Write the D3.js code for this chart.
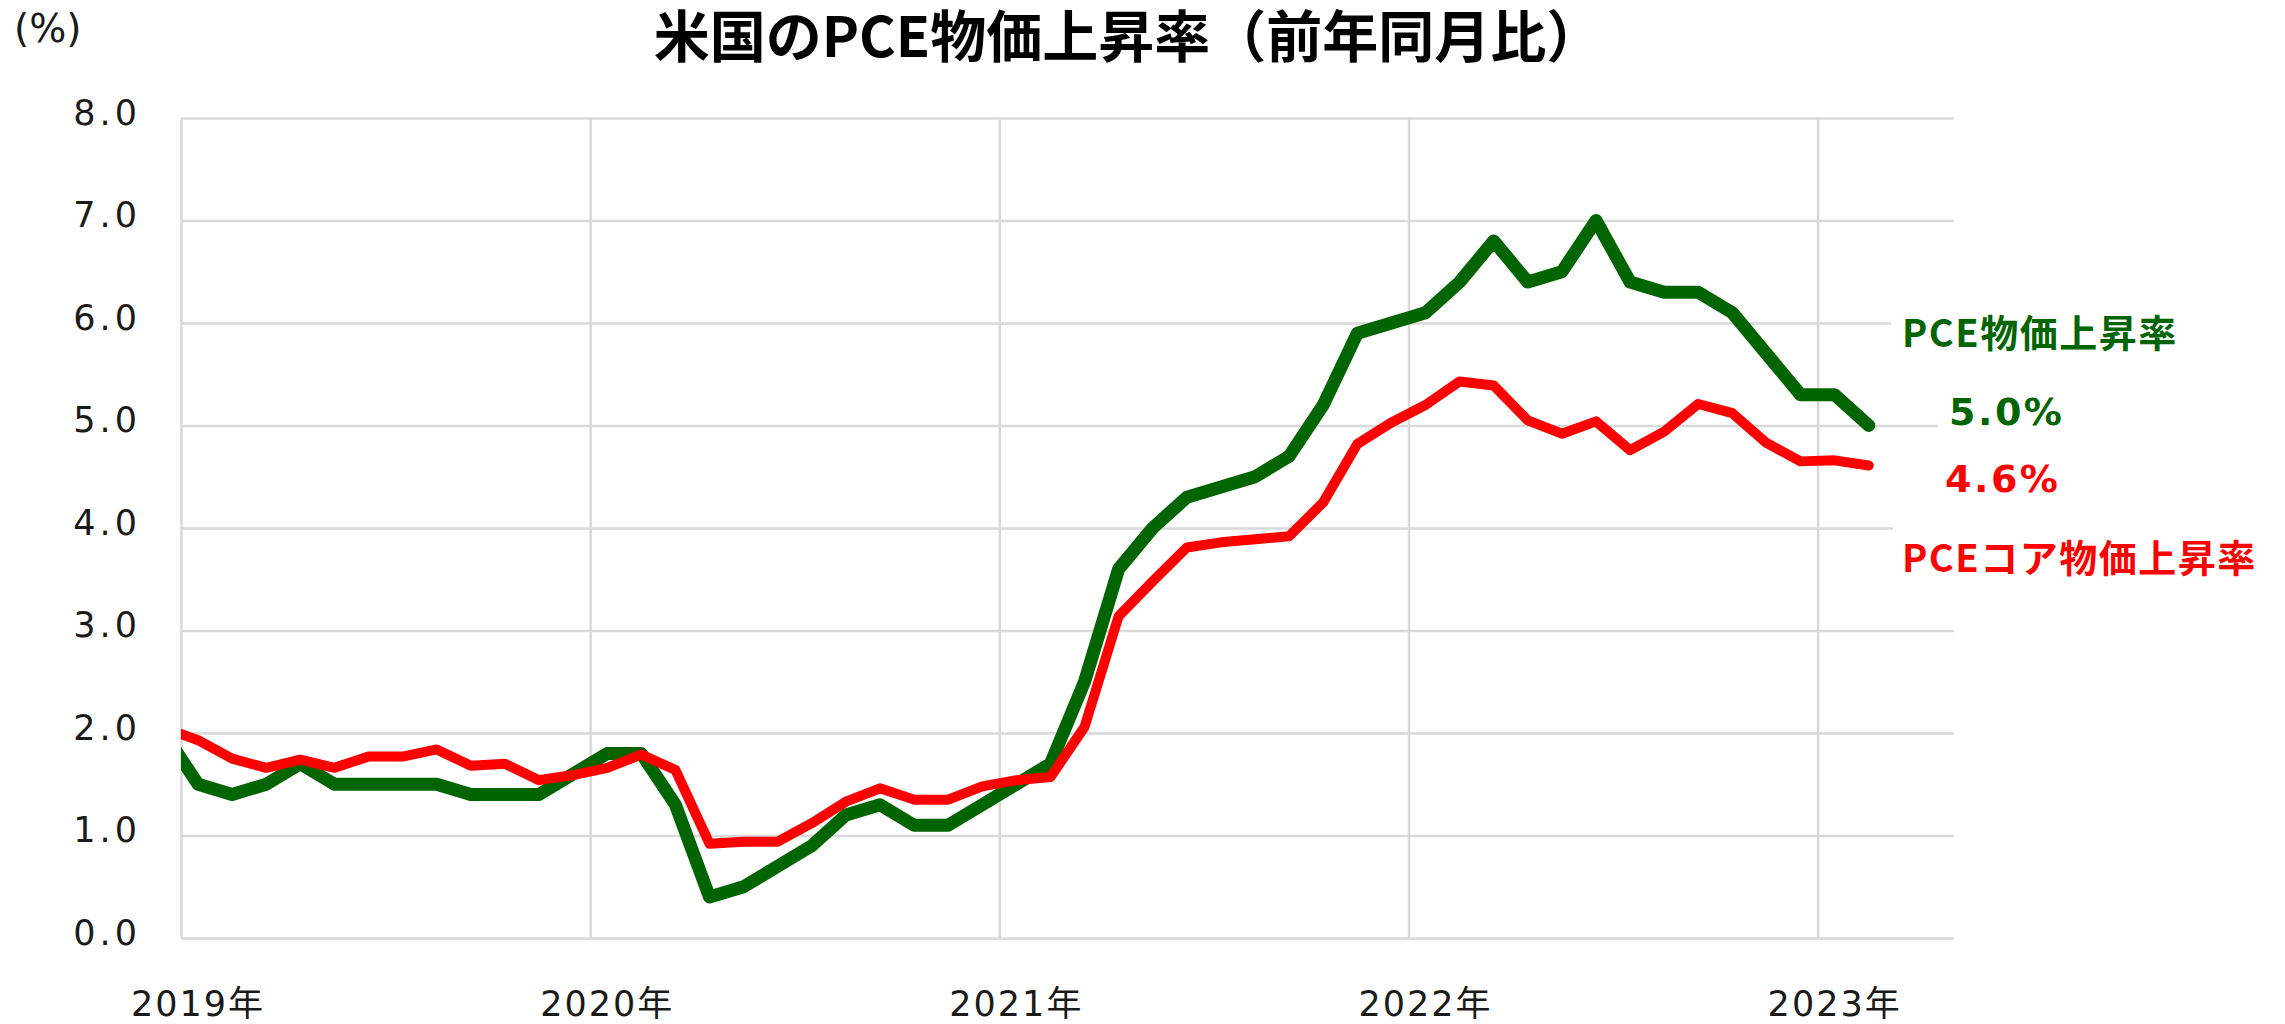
<!DOCTYPE html>
<html>
<head>
<meta charset="utf-8">
<script src="https://cdn.jsdelivr.net/npm/d3@7"></script>
<style>
  body { margin: 0; background: #fff; }
  #chart { width: 2285px; height: 1024px; }
</style>
</head>
<body>
<div id="chart"></div>
<script>
// monthly data, Dec 2018 .. Feb 2023 (first point sits left of the axis and gets clipped)
const months = d3.timeMonth.range(new Date(2018, 11, 1), new Date(2023, 2, 1));
const pce = [2.0,
  1.5, 1.4, 1.5, 1.7, 1.5, 1.5, 1.5, 1.5, 1.4, 1.4, 1.4, 1.6,
  1.8, 1.8, 1.3, 0.4, 0.5, 0.7, 0.9, 1.2, 1.3, 1.1, 1.1, 1.3,
  1.5, 1.7, 2.5, 3.6, 4.0, 4.3, 4.4, 4.5, 4.7, 5.2, 5.9, 6.0,
  6.1, 6.4, 6.8, 6.4, 6.5, 7.0, 6.4, 6.3, 6.3, 6.1, 5.7, 5.3,
  5.3, 5.0];
const pceCore = [2.05,
  1.93, 1.75, 1.66, 1.74, 1.66, 1.77, 1.77, 1.84, 1.68, 1.70, 1.54, 1.59,
  1.66, 1.79, 1.64, 0.92, 0.94, 0.94, 1.12, 1.33, 1.46, 1.35, 1.35, 1.48,
  1.54, 1.57, 2.06, 3.14, 3.48, 3.81, 3.86, 3.89, 3.92, 4.25, 4.82, 5.03,
  5.20, 5.43, 5.39, 5.05, 4.92, 5.04, 4.76, 4.94, 5.21, 5.12, 4.83, 4.65,
  4.66, 4.61];
const yearTicks = [0, 12, 24, 36, 48];
const yearLabels = ['2019年', '2020年', '2021年', '2022年', '2023年'];
const yTicks = [0, 1, 2, 3, 4, 5, 6, 7, 8];

const title = '米国のPCE物価上昇率（前年同月比）';
const unitLabel = '(%)';
const seriesNames = ['PCE物価上昇率', 'PCEコア物価上昇率'];
const lastLabels = ['5.0%', '4.6%'];

const GREEN = '#006400';
const RED = '#ff0000';
const GRID = '#d9d9d9';
const NUM_FONT = '"DejaVu Sans", "Noto Sans CJK JP", sans-serif';
const JP_FONT = '"Noto Sans CJK JP", sans-serif';

const margin = { top: 118, right: 331, bottom: 86, left: 181 };
const fullW = 2285, fullH = 1024;
const width = fullW - margin.left - margin.right;
const height = fullH - margin.top - margin.bottom;

const start = new Date(2019, 0, 1);
const idx = (d) => d3.timeMonth.count(start, d);

const x = d3.scaleLinear().domain([0, 52]).range([0, width]);
const y = d3.scaleLinear().domain([0, 8]).range([height, 0]);

const root = d3.select('#chart')
  .append('svg')
  .attr('width', fullW)
  .attr('height', fullH);

const svg = root.append('g')
  .attr('transform', `translate(${margin.left},${margin.top})`);

svg.append('defs')
  .append('clipPath')
  .attr('id', 'plot-clip')
  .append('rect')
  .attr('x', 0)
  .attr('y', -20)
  .attr('width', width)
  .attr('height', height + 40);

// horizontal gridlines + y labels
const yAxis = d3.axisLeft(y)
  .tickValues(yTicks)
  .tickSize(-width)
  .tickPadding(40)
  .tickFormat(d3.format('.1f'));

const yg = svg.append('g').call(yAxis);
yg.select('.domain').remove();
yg.selectAll('line').attr('stroke', GRID).attr('stroke-width', 2.5);
yg.selectAll('text')
  .attr('font-family', NUM_FONT)
  .attr('font-size', 35)
  .attr('letter-spacing', 4)
  .attr('fill', '#1a1a1a')
  .attr('dy', null)
  .attr('y', 6);

// vertical gridlines at each January
const xAxis = d3.axisBottom(x)
  .tickValues(yearTicks)
  .tickSize(-height)
  .tickFormat('');

const xg = svg.append('g')
  .attr('transform', `translate(0,${height})`)
  .call(xAxis);
xg.select('.domain').remove();
xg.selectAll('line').attr('stroke', GRID).attr('stroke-width', 2.5);

// year labels sit under the January point
svg.append('g')
  .selectAll('text')
  .data(yearTicks)
  .enter()
  .append('text')
  .attr('x', (d) => x(d + 0.5))
  .attr('y', 1016 - margin.top)
  .attr('text-anchor', 'middle')
  .attr('font-family', NUM_FONT)
  .attr('font-size', 35)
  .attr('letter-spacing', 2)
  .attr('fill', '#1a1a1a')
  .text((d, i) => yearLabels[i]);

// the two lines
const line = d3.line()
  .x((d) => x(idx(d.date) + 0.5))
  .y((d) => y(d.value));

const lines = [
  { values: pce, color: GREEN, width: 13 },
  { values: pceCore, color: RED, width: 10 },
];

lines.forEach((s) => {
  svg.append('path')
    .datum(months.map((m, i) => ({ date: m, value: s.values[i] })))
    .attr('clip-path', 'url(#plot-clip)')
    .attr('fill', 'none')
    .attr('stroke', s.color)
    .attr('stroke-width', s.width)
    .attr('stroke-linejoin', 'round')
    .attr('stroke-linecap', 'round')
    .attr('d', line);
});

// title and unit
root.append('text')
  .attr('x', 1128)
  .attr('y', 57)
  .attr('text-anchor', 'middle')
  .attr('font-family', JP_FONT)
  .attr('font-weight', 'bold')
  .attr('font-size', 56)
  .attr('fill', '#000')
  .text(title);

root.append('text')
  .attr('x', 14)
  .attr('y', 42)
  .attr('font-family', NUM_FONT)
  .attr('font-size', 39)
  .attr('fill', '#1a1a1a')
  .text(unitLabel);

// right-hand labels, with white boxes behind them (they cover the gridline ends)
const boxes = [
  { x: 1891, y: 305, w: 380, h: 56 },
  { x: 1938, y: 388, w: 150, h: 44 },
  { x: 1893, y: 522, w: 380, h: 62 },
];
root.append('g')
  .selectAll('rect')
  .data(boxes)
  .enter()
  .append('rect')
  .attr('x', (d) => d.x)
  .attr('y', (d) => d.y)
  .attr('width', (d) => d.w)
  .attr('height', (d) => d.h)
  .attr('fill', '#fff');

root.append('text')
  .attr('x', 1902).attr('y', 347)
  .attr('font-family', JP_FONT).attr('font-weight', 'bold')
  .attr('font-size', 38).attr('letter-spacing', 1.5)
  .attr('fill', GREEN)
  .text(seriesNames[0]);

root.append('text')
  .attr('x', 1902).attr('y', 572)
  .attr('font-family', JP_FONT).attr('font-weight', 'bold')
  .attr('font-size', 38).attr('letter-spacing', 1.5)
  .attr('fill', RED)
  .text(seriesNames[1]);

root.append('text')
  .attr('x', 1949).attr('y', 425)
  .attr('font-family', NUM_FONT).attr('font-weight', 'bold')
  .attr('font-size', 38).attr('letter-spacing', 2.5)
  .attr('fill', GREEN)
  .text(lastLabels[0]);

root.append('text')
  .attr('x', 1945).attr('y', 492)
  .attr('font-family', NUM_FONT).attr('font-weight', 'bold')
  .attr('font-size', 38).attr('letter-spacing', 2.5)
  .attr('fill', RED)
  .text(lastLabels[1]);
</script>
</body>
</html>
